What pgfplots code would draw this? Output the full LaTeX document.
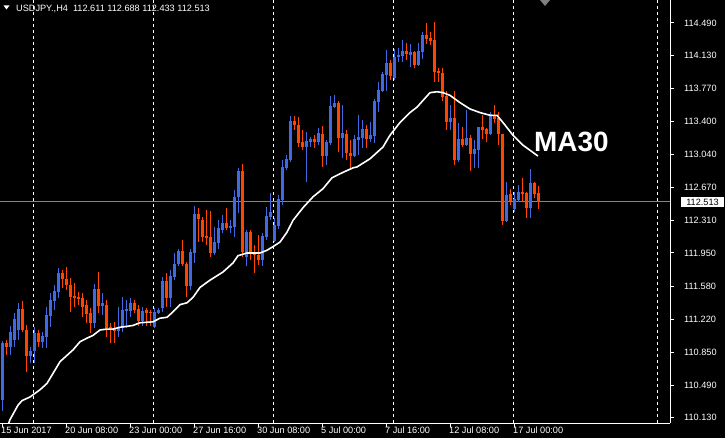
\documentclass[border=0pt]{standalone}
\usepackage{fontspec}
\setmainfont{Liberation Sans}
\usepackage{pgfplots}
\usepackage{pgfplotstable}
\pgfplotsset{compat=1.18}
\definecolor{bull}{RGB}{65,105,225}
\definecolor{bear}{RGB}{255,69,0}
\definecolor{pline}{RGB}{119,136,153}
\pgfplotstableread{
i o h l c
0 110.33 110.98 110.20 110.96
1 110.96 110.99 110.82 110.91
2 110.91 111.14 110.82 111.08
3 110.99 111.29 110.91 111.22
4 111.10 111.40 110.99 111.33
5 111.33 111.42 111.08 111.10
6 111.10 111.15 110.64 110.81
7 110.81 110.91 110.74 110.87
8 110.87 111.13 110.74 111.07
9 111.07 111.10 110.91 110.97
10 110.97 111.08 110.90 111.03
11 111.02 111.35 110.90 111.27
12 111.25 111.51 111.13 111.43
13 111.42 111.60 111.32 111.53
14 111.52 111.78 111.45 111.73
15 111.73 111.76 111.56 111.66
16 111.66 111.80 111.54 111.60
17 111.60 111.67 111.30 111.46
18 111.48 111.62 111.35 111.45
19 111.46 111.52 111.38 111.44
20 111.45 111.51 111.24 111.35
21 111.38 111.43 111.18 111.28
22 111.29 111.34 111.07 111.18
23 111.18 111.61 111.12 111.55
24 111.55 111.74 111.29 111.36
25 111.36 111.51 111.27 111.40
26 111.38 111.43 111.02 111.12
27 111.13 111.18 110.96 111.10
28 111.12 111.19 110.96 111.09
29 111.09 111.35 111.02 111.13
30 111.12 111.46 111.08 111.32
31 111.31 111.43 111.12 111.33
32 111.31 111.45 111.24 111.40
33 111.40 111.43 111.29 111.32
34 111.33 111.38 111.15 111.20
35 111.20 111.35 111.15 111.31
36 111.32 111.34 111.15 111.29
37 111.30 111.32 111.15 111.29
38 111.13 111.34 111.12 111.30
39 111.29 111.34 111.28 111.32
40 111.34 111.69 111.30 111.64
41 111.64 111.73 111.35 111.45
42 111.45 111.76 111.35 111.70
43 111.69 111.95 111.65 111.83
44 111.83 111.99 111.81 111.97
45 111.97 112.09 111.81 111.83
46 111.83 111.85 111.46 111.59
47 111.59 112.00 111.54 111.96
48 111.95 112.47 111.84 112.38
49 112.38 112.45 112.07 112.33
50 112.31 112.35 112.07 112.13
51 112.14 112.42 112.04 112.12
52 112.13 112.42 111.91 111.95
53 111.95 112.24 111.93 112.07
54 112.06 112.31 112.00 112.23
55 112.21 112.37 112.17 112.28
56 112.28 112.45 112.20 112.23
57 112.23 112.31 112.17 112.25
58 112.24 112.65 112.13 112.57
59 112.57 112.89 112.39 112.86
60 112.86 112.93 111.91 111.96
61 111.91 112.20 111.81 112.18
62 112.18 112.20 111.87 111.95
63 111.96 112.04 111.73 111.93
64 111.93 112.15 111.82 111.87
65 111.87 112.17 111.81 112.14
66 112.13 112.46 112.09 112.36
67 112.35 112.61 112.31 112.40
68 112.08 112.34 112.07 112.26
69 112.25 112.59 112.22 112.55
70 112.54 112.98 112.48 112.90
71 112.89 113.03 112.87 112.99
72 112.98 113.46 112.95 113.41
73 113.41 113.46 113.31 113.36
74 113.36 113.45 113.12 113.16
75 113.18 113.31 113.09 113.12
76 113.12 113.29 112.73 113.19
77 113.18 113.23 113.12 113.21
78 113.21 113.25 113.11 113.18
79 113.18 113.33 113.14 113.27
80 113.27 113.35 112.90 113.02
81 113.02 113.20 112.92 113.18
82 113.16 113.68 113.14 113.57
83 113.56 113.69 113.55 113.61
84 113.61 113.63 113.07 113.22
85 113.22 113.58 113.00 113.27
86 113.26 113.31 112.98 113.05
87 113.06 113.20 112.87 113.02
88 113.02 113.25 113.01 113.21
89 113.20 113.47 113.03 113.23
90 113.22 113.42 113.11 113.32
91 113.32 113.36 113.11 113.21
92 113.21 113.40 113.18 113.25
93 113.24 113.65 113.16 113.63
94 113.62 113.84 113.51 113.75
95 113.74 113.95 113.73 113.93
96 113.92 114.19 113.74 114.05
97 114.05 114.08 113.86 113.90
98 113.88 114.20 113.86 114.11
99 114.11 114.21 114.06 114.14
100 114.12 114.30 114.06 114.18
101 114.18 114.27 114.08 114.15
102 114.14 114.26 114.00 114.17
103 114.17 114.18 113.99 114.03
104 114.03 114.27 114.01 114.18
105 114.17 114.39 114.09 114.36
106 114.36 114.49 114.26 114.31
107 114.32 114.39 114.25 114.29
108 114.30 114.50 113.84 113.95
109 113.96 113.99 113.84 113.94
110 113.94 113.99 113.63 113.67
111 113.68 113.74 113.31 113.40
112 113.40 113.58 113.31 113.44
113 113.44 113.74 112.92 112.98
114 112.98 113.39 112.95 113.21
115 113.21 113.34 113.12 113.14
116 113.14 113.53 113.13 113.22
117 113.22 113.25 112.86 113.04
118 113.04 113.20 112.89 113.10
119 113.09 113.34 112.89 113.34
120 113.34 113.47 113.21 113.31
121 113.32 113.33 113.18 113.26
122 113.26 113.51 113.25 113.48
123 113.47 113.58 113.39 113.43
124 113.44 113.51 113.14 113.26
125 113.27 113.27 112.26 112.30
126 112.30 112.73 112.29 112.59
127 112.60 112.66 112.48 112.52
128 112.44 112.62 112.40 112.55
129 112.54 112.70 112.51 112.62
130 112.62 112.78 112.51 112.60
131 112.61 112.62 112.34 112.45
132 112.45 112.88 112.34 112.72
133 112.72 112.73 112.56 112.60
134 112.611 112.688 112.433 112.513
}\candles
\begin{document}
\begin{tikzpicture}
\fill[black] (0,0) rectangle (725bp,438bp);
\begin{axis}[
  at={(0,15bp)}, anchor=south west,
  scale only axis, width=670bp, height=423bp,
  xmin=-0.5, xmax=167, ymin=110.073, ymax=114.743,
  axis x line*=bottom, axis y line*=right,
  axis line style={white, line width=1bp},
  every tick/.style={white, line width=1bp},
  tick align=outside, major tick length=4bp,
  /pgf/number format/assume math mode=true,
  xtick={0,16,32,48,64,80,96,112,128},
  xticklabels={15 Jun 2017,20 Jun 08:00,23 Jun 00:00,27 Jun 16:00,30 Jun 08:00,5 Jul 00:00,7 Jul 16:00,12 Jul 08:00,17 Jul 00:00},
  xticklabel style={anchor=north west, inner sep=0pt, xshift=-1bp, text=white, font=\fontsize{9.2}{10}\selectfont},
  ytick={110.13,110.49,110.85,111.22,111.58,111.95,112.31,112.67,113.04,113.40,113.77,114.13,114.49},
  yticklabels={110.130,110.490,110.850,111.220,111.580,111.950,112.310,112.670,113.040,113.400,113.770,114.130,114.490},
  yticklabel style={anchor=west, inner sep=0pt, xshift=10bp, text=white, font=\fontsize{9.2}{10}\selectfont},
]
% weekly separators
\pgfplotsinvokeforeach{7.83,37.83,67.83,97.83,127.83,163.83}{
  \draw[white, line width=1bp, dash pattern=on 3bp off 3bp] (axis cs:#1,110.073) -- (axis cs:#1,114.743);
}
% price line
\addplot[pline, line width=1bp, forget plot] coordinates {(-0.5,112.513) (167,112.513)};
% bullish wicks and bodies
\addplot[draw=none, mark=none, forget plot,
  restrict expr to domain={\thisrow{c}-\thisrow{o}}{0:10},
  error bars/.cd, y dir=both, y explicit, error mark=none,
  error bar style={draw=bull, line width=1bp, solid}]
  table[x=i, y expr={(\thisrow{h}+\thisrow{l})/2}, y error expr={(\thisrow{h}-\thisrow{l})/2}] {\candles};
\addplot[draw=none, mark=none, forget plot,
  restrict expr to domain={\thisrow{c}-\thisrow{o}}{0:10},
  error bars/.cd, y dir=both, y explicit, error mark=none,
  error bar style={draw=bull, line width=3bp, solid}]
  table[x=i, y expr={(\thisrow{o}+\thisrow{c})/2}, y error expr={(\thisrow{c}-\thisrow{o})/2}] {\candles};
% bearish wicks and bodies
\addplot[draw=none, mark=none, forget plot,
  restrict expr to domain={\thisrow{o}-\thisrow{c}}{0.0001:10},
  error bars/.cd, y dir=both, y explicit, error mark=none,
  error bar style={draw=bear, line width=1bp, solid}]
  table[x=i, y expr={(\thisrow{h}+\thisrow{l})/2}, y error expr={(\thisrow{h}-\thisrow{l})/2}] {\candles};
\addplot[draw=none, mark=none, forget plot,
  restrict expr to domain={\thisrow{o}-\thisrow{c}}{0.0001:10},
  error bars/.cd, y dir=both, y explicit, error mark=none,
  error bar style={draw=bear, line width=3bp, solid}]
  table[x=i, y expr={(\thisrow{o}+\thisrow{c})/2}, y error expr={(\thisrow{o}-\thisrow{c})/2}] {\candles};
% MA30
\addplot[white, line width=1.6bp, mark=none] coordinates {
(0,109.88) (1.25,110.02) (2,110.11) (4,110.27) (5,110.32) (7,110.36) (9.5,110.44)
(11.25,110.51) (12.75,110.62) (14.5,110.75) (16.25,110.82) (17.75,110.88)
(19.5,110.97) (21.25,111.01) (22.75,111.04) (24.5,111.10) (26.25,111.11)
(27.75,111.11) (29.5,111.13) (31.25,111.14) (32.75,111.15) (34.5,111.18)
(37.75,111.19) (39.5,111.23) (41.25,111.24) (42.75,111.30) (44.5,111.38)
(46.25,111.40) (47.75,111.46) (49.5,111.57) (52,111.65) (55.25,111.74)
(57.75,111.84) (59,111.92) (61.25,111.95) (64.5,111.95) (66.25,111.98)
(67.75,112.02) (69.5,112.07) (71.25,112.18) (72.75,112.31) (75.25,112.45)
(77.75,112.57) (80.25,112.66) (82.5,112.78) (85.25,112.84) (87.75,112.89)
(88.75,112.90) (92,112.99) (95.25,113.12) (97,113.25) (99.5,113.39)
(102,113.50) (103.75,113.56) (107,113.72) (108.75,113.73) (110.25,113.72)
(112,113.69) (114.5,113.61) (117,113.54) (119.5,113.50) (122,113.47)
(123.75,113.47) (125.25,113.39) (127.75,113.25) (130.25,113.14) (134,113.02)
};
\node[anchor=base west, text=white, inner sep=0pt, font=\fontsize{28}{30}\selectfont\bfseries] at (axis cs:133,113.065) {MA30};
\end{axis}
% current price label
\node[fill=white, text=black, inner xsep=0pt, inner ysep=1.5bp, minimum width=43bp, anchor=center, font=\fontsize{9.2}{10}\selectfont] at (702.5bp,236bp) {112.513};
% title
\fill[white] (3.5bp,432.5bp) -- (9.5bp,432.5bp) -- (6.5bp,428.5bp) -- cycle;
\node[anchor=west, text=white, inner sep=0pt, font=\fontsize{9.2}{10}\selectfont] at (16bp,429.5bp) {USDJPY.,H4\ \ 112.611 112.688 112.433 112.513};
% chart shift marker
\fill[gray] (540bp,438bp) -- (550bp,438bp) -- (545bp,432bp) -- cycle;
\pgfresetboundingbox
\useasboundingbox (0,0) rectangle (725bp,438bp);
\end{tikzpicture}
\end{document}
